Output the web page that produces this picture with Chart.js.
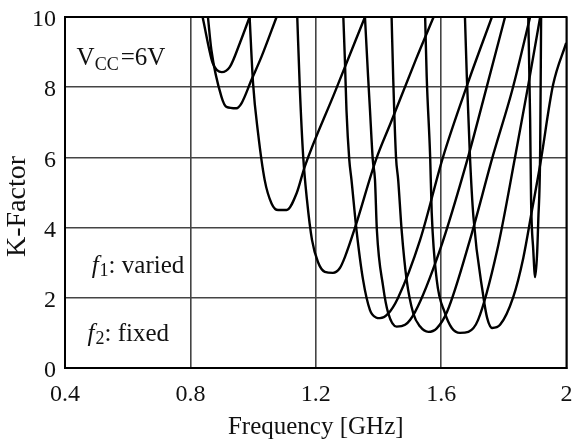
<!DOCTYPE html>
<html>
<head>
<meta charset="utf-8">
<title>K-Factor</title>
<script src="https://cdn.jsdelivr.net/npm/chart.js@4"></script>
<style>
    html, body { margin: 0; padding: 0; background: #fff; }
    #wrap { width: 572px; height: 442px; position: relative; }
</style>
</head>
<body>
<div id="wrap"><canvas id="kChart"></canvas></div>
<script>
// frequency [GHz], K-factor pairs, one list per f2 setting
const curveA = [[0.839,10],[0.871,8.69],[0.886,8.48],[0.900,8.43],[0.926,8.58],[0.958,9.26],[0.989,10]];
const curveB = [[0.856,10],[0.867,9.06],[0.899,7.73],[0.915,7.44],[0.947,7.40],[0.963,7.54],[0.995,8.21],[1.027,8.87],[1.075,10]];
const curveC = [[0.989,10],[1.000,8.11],[1.016,6.69],[1.037,5.36],[1.059,4.69],[1.080,4.50],[1.107,4.50],[1.139,4.98],[1.165,5.74],[1.261,7.86],[1.357,10]];
const curveD = [[1.141,10],[1.149,8.01],[1.160,6.02],[1.172,4.79],[1.188,3.65],[1.207,3.02],[1.229,2.74],[1.255,2.71],[1.277,2.85],[1.293,3.16],[1.325,3.99],[1.392,5.93],[1.440,7.00],[1.520,8.80],[1.576,10]];
const curveE = [[1.288,10],[1.293,8.77],[1.298,7.35],[1.307,5.93],[1.314,5.36],[1.330,3.93],[1.351,2.51],[1.373,1.65],[1.392,1.44],[1.405,1.42],[1.430,1.54],[1.462,1.99],[1.533,3.65],[1.606,6.01],[1.683,8.06],[1.762,10]];
const curveF = [[1.357,10],[1.367,8.30],[1.373,7.35],[1.382,5.93],[1.389,5.36],[1.395,3.93],[1.415,2.32],[1.431,1.57],[1.458,1.18],[1.485,1.23],[1.517,1.60],[1.596,3.36],[1.686,6.01],[1.747,8.06],[1.804,10]];
const curveG = [[1.442,10],[1.447,8.30],[1.456,6.02],[1.463,5.36],[1.474,3.93],[1.490,2.51],[1.511,1.56],[1.533,1.18],[1.559,1.03],[1.586,1.13],[1.619,1.60],[1.692,3.65],[1.766,6.07],[1.827,7.92],[1.884,10]];
const curveH = [[1.549,10],[1.554,8.30],[1.565,6.02],[1.570,4.42],[1.586,2.51],[1.612,1.57],[1.634,1.14],[1.660,1.00],[1.687,1.03],[1.718,1.37],[1.779,3.36],[1.836,6.01],[1.878,8.06],[1.916,10]];
const curveI = [[1.676,10],[1.682,8.30],[1.692,6.02],[1.703,4.31],[1.734,2.08],[1.747,1.42],[1.763,1.14],[1.788,1.23],[1.830,2.02],[1.862,3.13],[1.890,4.50],[1.916,5.79],[1.957,8.06],[1.999,9.26]];
const curveJ = [[1.878,10],[1.884,7.07],[1.887,4.79],[1.894,3.36],[1.900,2.59],[1.906,3.22],[1.910,4.22],[1.916,6.21],[1.919,10]];

const curves = [curveA, curveB, curveC, curveD, curveE, curveF, curveG, curveH, curveI, curveJ];

const xTicks = [0.4, 0.8, 1.2, 1.6, 2.0];
const xTickLabels = ["0.4", "0.8", "1.2", "1.6", "2"];
const yTicks = [0, 2, 4, 6, 8, 10];

const serif = "'Liberation Serif', 'Times New Roman', serif";

// frame, y axis title and the three text notes inside the plot
const notes = {
    id: "notes",
    afterDraw(chart) {
        const { ctx, chartArea: a, scales } = chart;
        ctx.save();
        ctx.strokeStyle = "#000";
        ctx.lineWidth = 2;
        ctx.strokeRect(a.left, a.top, a.right - a.left, a.bottom - a.top);

        ctx.fillStyle = "#111";

        // K-Factor, rotated, sitting a little below the plot middle
        ctx.save();
        ctx.translate(18, scales.y.getPixelForValue(4.6));
        ctx.rotate(-Math.PI / 2);
        ctx.textAlign = "center";
        ctx.textBaseline = "middle";
        ctx.font = "28px " + serif;
        ctx.fillText("K-Factor", 0, 0);
        ctx.restore();

        ctx.textBaseline = "alphabetic";
        ctx.textAlign = "left";

        const put = (parts, fx, ky) => {
            let x = scales.x.getPixelForValue(fx);
            const y = scales.y.getPixelForValue(ky);
            parts.forEach(p => {
                ctx.font = p.font;
                ctx.fillText(p.t, x, y + (p.dy || 0));
                x += ctx.measureText(p.t).width + (p.gap || 0);
            });
        };

        put([
            { t: "V", font: "25px " + serif },
            { t: "CC", font: "18px " + serif, dy: 5, gap: 2 },
            { t: "=6V", font: "25px " + serif }
        ], 0.437, 8.63);

        put([
            { t: "f", font: "italic 25px " + serif, gap: 1 },
            { t: "1", font: "18px " + serif, dy: 3 },
            { t: ": varied", font: "25px " + serif }
        ], 0.485, 2.71);

        put([
            { t: "f", font: "italic 25px " + serif, gap: 1 },
            { t: "2", font: "18px " + serif, dy: 3 },
            { t: ": fixed", font: "25px " + serif }
        ], 0.472, 0.77);

        ctx.restore();
    }
};

new Chart(document.getElementById("kChart"), {
    type: "line",
    data: {
        datasets: curves.map(c => ({
            data: c.map(p => ({ x: p[0], y: p[1] })),
            borderColor: "#000",
            borderWidth: 2.4,
            pointRadius: 0,
            cubicInterpolationMode: "monotone",
            fill: false
        }))
    },
    options: {
        responsive: true,
        maintainAspectRatio: false,
        animation: false,
        layout: { padding: { top: 17, right: 5.5, left: 0, bottom: 0 } },
        plugins: {
            legend: { display: false },
            tooltip: { enabled: false }
        },
        scales: {
            x: {
                type: "linear",
                min: 0.4,
                max: 2.0,
                afterBuildTicks: s => { s.ticks = xTicks.map(v => ({ value: v })); },
                afterFit: s => { s.height = 74; s.paddingLeft = 0; s.paddingRight = 0; },
                ticks: {
                    color: "#111",
                    padding: 12,
                    maxRotation: 0,
                    font: { family: serif, size: 24 },
                    callback: (v, i) => xTickLabels[i]
                },
                grid: { color: "#444", lineWidth: 1.6, drawTicks: false },
                border: { color: "#000", width: 2 },
                title: {
                    display: true,
                    text: "Frequency [GHz]",
                    color: "#111",
                    font: { family: serif, size: 25 },
                    padding: { top: 0, bottom: 0 }
                }
            },
            y: {
                min: 0,
                max: 10,
                afterBuildTicks: s => { s.ticks = yTicks.map(v => ({ value: v })); },
                afterFit: s => { s.width = 65; s.paddingTop = 0; s.paddingBottom = 0; },
                ticks: {
                    color: "#111",
                    padding: 9,
                    labelOffset: 3,
                    font: { family: serif, size: 24 },
                    callback: v => String(v)
                },
                grid: { color: "#444", lineWidth: 1.6, drawTicks: false },
                border: { color: "#000", width: 2 }
            }
        }
    },
    plugins: [notes]
});
</script>
</body>
</html>
